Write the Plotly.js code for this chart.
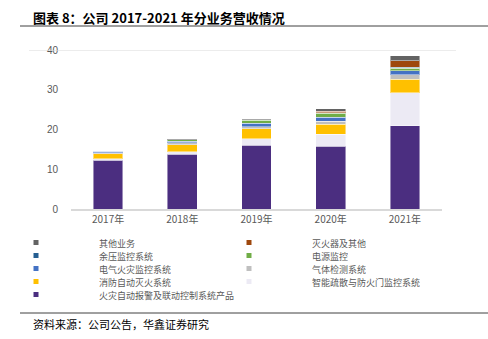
<!DOCTYPE html>
<html><head><meta charset="utf-8">
<script src="https://cdn.plot.ly/plotly-3.0.1.min.js"></script>
<style>html,body{margin:0;padding:0;background:#fff}#c{width:488px;height:339px}</style>
</head><body><div id="c"></div>
<script>
const years = ['2017年','2018年','2019年','2020年','2021年'];
const seriesNames = ['火灾自动报警及联动控制系统产品','智能疏散与防火门监控系统','消防自动灭火系统','气体检测系统','电气火灾监控系统','电源监控','余压监控系统','灭火器及其他','其他业务'];
const seriesColors = ['#4B2E80','#ECEAF4','#FFC000','#BFBFBF','#4472C4','#70AD47','#255E91','#9E480E','#636363'];
const fireAlarm   = [12.3, 13.75, 16.1, 15.85, 20.9];
const evacuation  = [0.4, 0.65, 1.6, 3.0, 8.3];
const extinguish  = [1.25, 1.75, 2.45, 2.5, 3.4];
const gasDetect   = [0.25, 0.5, 0.6, 0.75, 1.15];
const elecFire    = [0.3, 0.4, 0.85, 1.0, 1.0];
const powerMon    = [0.05, 0.35, 0.7, 1.0, 0.7];
const pressureMon = [0.05, 0.05, 0.1, 0.1, 0.15];
const extinguisher= [0.0, 0.0, 0.05, 0.4, 1.75];
const otherBiz    = [0.1, 0.2, 0.3, 0.6, 1.2];
const seriesValues = [fireAlarm, evacuation, extinguish, gasDetect, elecFire, powerMon, pressureMon, extinguisher, otherBiz];
const yTicks = [0,10,20,30,40];

const traces = seriesValues.map((v,i)=>({type:'bar', x:years, y:v, name:seriesNames[i], showlegend:false,
    marker:{color:seriesColors[i], line:{color:'rgba(255,255,255,0.45)', width:1}}, hoverinfo:'skip'}));

const L=71, R=46, T=50, B=130, W=488, H=339;
const pw = W-L-R, ph = H-T-B;
const px = v => (v-L)/pw;
const py = v => (H-B-v)/ph;

const shapes = [
  {type:'line', xref:'paper', yref:'y', x0:px(29), x1:px(456), y0:40, y1:40, line:{color:'#D9D9D9', width:1}},
  {type:'line', xref:'paper', yref:'paper', x0:px(20), x1:px(488), y0:py(26), y1:py(26), line:{color:'#404040', width:1}},
  {type:'line', xref:'paper', yref:'paper', x0:px(20), x1:px(488), y0:py(313), y1:py(313), line:{color:'#404040', width:1}}
];
const annotations = [
  {text:'<b>图表 8：公司 2017-2021 年分业务营收情况</b>', xref:'paper', yref:'paper', x:px(31), y:py(17),
    xanchor:'left', yanchor:'middle', showarrow:false, font:{size:13, color:'#000', family:'"Noto Sans CJK SC", sans-serif'}},
  {text:'资料来源：公司公告，华鑫证券研究', xref:'paper', yref:'paper', x:px(31), y:py(324),
    xanchor:'left', yanchor:'middle', showarrow:false, font:{size:11, color:'#000', family:'"Noto Sans CJK SC", serif'}}
];
// legend (two columns, reversed stack order, row-wise)
const legendOrder = [8,7,6,5,4,3,2,1,0];
const colMarkX = [36, 249], colTextX = [98, 311], rowY0 = 242.5, rowStep = 13, sq = 5;
legendOrder.forEach((si,k)=>{
  const col = k%2, row = Math.floor(k/2);
  const yc = rowY0 + row*rowStep;
  shapes.push({type:'rect', xref:'paper', yref:'paper', x0:px(colMarkX[col]-sq/2), x1:px(colMarkX[col]+sq/2),
    y0:py(yc-sq/2), y1:py(yc+sq/2), fillcolor:seriesColors[si], line:{width:0}});
  annotations.push({text:seriesNames[si], xref:'paper', yref:'paper', x:px(colTextX[col]), y:py(yc),
    xanchor:'left', yanchor:'middle', showarrow:false, height:12, valign:'middle', borderpad:0,
    font:{size:9, color:'#595959', family:'"Noto Sans CJK SC", sans-serif'}});
});

const layout = {
  width:W, height:H, barmode:'stack', bargap:0.6, showlegend:false,
  margin:{l:L, r:R, t:T, b:B, pad:0},
  paper_bgcolor:'#fff', plot_bgcolor:'#fff',
  font:{family:'"Noto Sans CJK SC", sans-serif', color:'#595959'},
  xaxis:{type:'category', showgrid:false, showline:true, linecolor:'#D9D9D9', linewidth:1.5,
    ticks:'', tickfont:{size:10, family:'"Noto Sans CJK SC", sans-serif', color:'#595959'}},
  yaxis:{range:[0,40], tickvals:yTicks, showgrid:false, zeroline:false, showline:false,
    ticks:'', ticklabelstandoff:12, tickfont:{size:10, family:'"Liberation Sans", Arial, sans-serif', color:'#595959'}},
  shapes:shapes, annotations:annotations
};
Plotly.newPlot('c', traces, layout, {displayModeBar:false, staticPlot:true});
</script></body></html>
